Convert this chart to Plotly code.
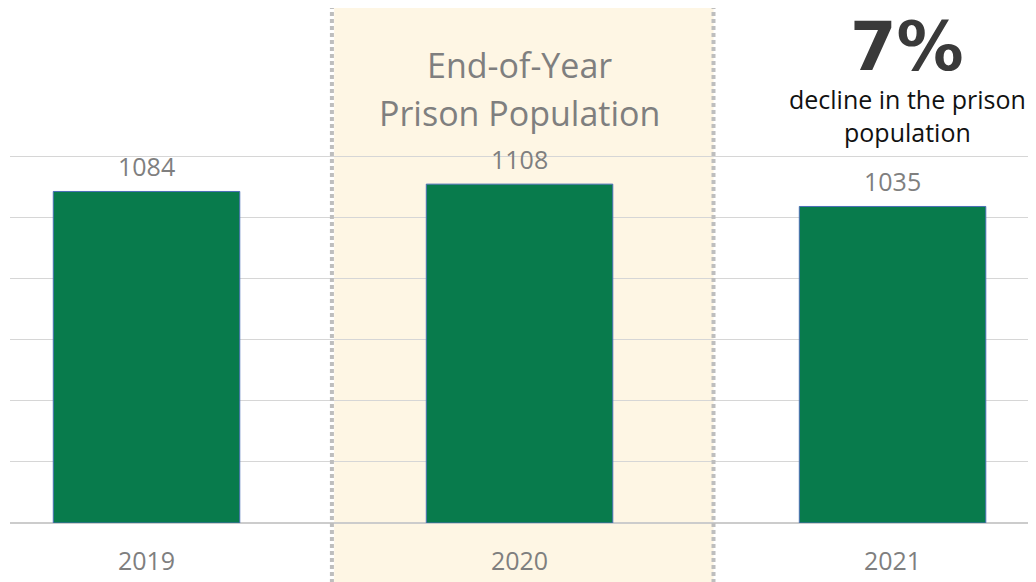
import plotly.graph_objects as go

# end-of-year prison population
years = ['2019', '2020', '2021']
population = [1084, 1108, 1035]
grid_vals = [0, 200, 400, 600, 800, 1000, 1200]

highlight_year = '2020'
title_lines = ['End-of-Year', 'Prison Population']
stat_big = '7%'
stat_text = 'decline in the prison<br>population'

GREEN = '#087B4C'
GRAY_TXT = '#7F7F7F'
SHADE = '#FEF6E4'

# page has an 8px body margin; plot area spans page y 8..523
PLOT_H = 515


def py(page_y):
    return (523 - page_y) / PLOT_H


fig = go.Figure()

fig.add_trace(go.Bar(
    x=list(range(len(years))),
    y=population,
    width=0.5,
    marker=dict(color=GREEN, line=dict(color='#4A6FB5', width=1)),
    hoverinfo='skip',
))

# value labels above bars
for i, v in enumerate(population):
    fig.add_annotation(
        x=i, y=v, text=str(v), showarrow=False,
        yanchor='bottom', yshift=6,
        font=dict(family='Open Sans', size=25, color=GRAY_TXT),
    )

# highlighted year band
hi = years.index(highlight_year)
fig.add_shape(type='rect', xref='x', yref='paper',
              x0=hi - 0.497, x1=hi + 0.52, y0=-0.13, y1=1.0,
              fillcolor=SHADE, line=dict(width=0), layer='below')
for xx in (hi - 0.503, hi + 0.52):
    fig.add_shape(type='line', xref='x', yref='paper',
                  x0=xx, x1=xx, y0=-0.13, y1=1.0,
                  line=dict(color='#BEBEBE', width=4, dash='4px,3px'),
                  layer='above')

# title inside the band
fig.add_annotation(xref='x', yref='paper', x=hi, y=py(65),
                   text=title_lines[0], showarrow=False, yanchor='middle',
                   font=dict(family='Open Sans', size=34, color=GRAY_TXT))
fig.add_annotation(xref='x', yref='paper', x=hi, y=py(113),
                   text=title_lines[1], showarrow=False, yanchor='middle',
                   font=dict(family='Open Sans', size=34, color=GRAY_TXT))

# callout
fig.add_annotation(xref='x', yref='paper', x=2.04, y=py(47),
                   text='<b>' + stat_big + '</b>', showarrow=False, yanchor='middle',
                   font=dict(family='DejaVu Sans', size=67, color='#3A3A3A'))
fig.add_annotation(xref='x', yref='paper', x=2.04, y=py(116),
                   text=stat_text, showarrow=False, yanchor='middle',
                   font=dict(family='Open Sans', size=25, color='#111111'))

fig.update_layout(
    width=1036, height=582,
    margin=dict(l=2, r=0, t=0, b=67),
    paper_bgcolor='white', plot_bgcolor='white',
    showlegend=False,
    xaxis=dict(
        range=[-0.366, 2.406],
        tickvals=list(range(len(years))), ticktext=years,
        showgrid=False, zeroline=False, showline=False,
        ticks='', ticklabelstandoff=21,
        tickfont=dict(family='Open Sans', size=25, color=GRAY_TXT),
        fixedrange=True,
    ),
    yaxis=dict(
        range=[0, PLOT_H / 0.30583],
        tickvals=grid_vals, showticklabels=False,
        showgrid=True, gridcolor='#D6D6D6', gridwidth=1,
        zeroline=True, zerolinecolor='#CCCCCC', zerolinewidth=2,
        fixedrange=True,
    ),
)

fig.write_html('out.html', config={'displayModeBar': False})
